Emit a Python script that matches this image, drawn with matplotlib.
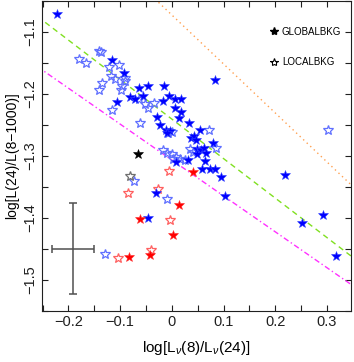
import matplotlib
matplotlib.use('Agg')
from matplotlib import pyplot as plt
from matplotlib.lines import Line2D
from matplotlib.ticker import MultipleLocator
import numpy as np

plt.rcParams['font.family'] = ['Liberation Sans', 'DejaVu Sans']
plt.rcParams['mathtext.fontset'] = 'custom'
plt.rcParams['mathtext.rm'] = 'Liberation Sans'
plt.rcParams['mathtext.it'] = 'Liberation Sans:italic'
plt.rcParams['axes.unicode_minus'] = True

# global background, blue (filled stars)
gb_x = [-0.222, -0.115, -0.092, -0.064, -0.080, -0.071, -0.046, -0.015, 0.083, -0.055,
        -0.006, -0.017, 0.006, 0.017, -0.106, 0.006, 0.017, -0.028, 0.014, -0.023,
        0.034, -0.012, -0.003, -0.009, 0.055, 0.037, 0.043, 0.046, 0.080, 0.048,
        0.056, 0.063, 0.067, 0.049, 0.032, 0.064, 0.058, 0.073, 0.084, 0.095,
        0.218, 0.103, 0.292, 0.251, 0.318, 0.009, -0.030, -0.046]
gb_y = [-1.072, -1.145, -1.166, -1.191, -1.205, -1.208, -1.188, -1.188, -1.178, -1.203,
        -1.203, -1.212, -1.209, -1.209, -1.213, -1.223, -1.230, -1.237, -1.239, -1.251,
        -1.247, -1.258, -1.260, -1.264, -1.258, -1.272, -1.268, -1.275, -1.280, -1.289,
        -1.291, -1.287, -1.295, -1.298, -1.307, -1.309, -1.321, -1.321, -1.321, -1.335,
        -1.332, -1.365, -1.396, -1.409, -1.462, -1.310, -1.361, -1.400]

# local background, blue (open stars)
lb_x = [-0.141, -0.138, -0.179, -0.167, -0.102, -0.121, -0.117, -0.110, -0.090, -0.091,
        -0.135, -0.097, -0.098, -0.140, -0.115, -0.063, -0.052, -0.046, -0.035, -0.061,
        -0.007, 0.071, 0.086, 0.036, 0.041, -0.017, -0.010, 0.000, 0.008, 0.016,
        0.026, 0.003, 0.000, 0.302, -0.073, -0.009, -0.129]
lb_y = [-1.131, -1.133, -1.144, -1.151, -1.154, -1.157, -1.171, -1.177, -1.175, -1.179,
        -1.183, -1.188, -1.194, -1.194, -1.226, -1.209, -1.217, -1.223, -1.215, -1.247,
        -1.264, -1.259, -1.287, -1.290, -1.294, -1.291, -1.295, -1.298, -1.302, -1.305,
        -1.307, -1.306, -1.262, -1.258, -1.341, -1.370, -1.459]

# black / grey sources
gk_x = [-0.065]
gk_y = [-1.298]
lk_x = [-0.081]
lk_y = [-1.333]

# red sources
gr_x = [0.041, 0.014, -0.061, 0.002, -0.042, -0.082]
gr_y = [-1.327, -1.379, -1.403, -1.428, -1.461, -1.463]
lr_x = [-0.005, -0.084, -0.026, -0.003, -0.040, -0.104]
lr_y = [-1.325, -1.360, -1.353, -1.404, -1.452, -1.465]

# reference lines: y = a + b*x
green_ab = (-1.241, -0.637)
magenta_ab = (-1.307, -0.579)
orange_ab = (-1.073, -0.790)

# typical error bar
err_x, err_y = -0.191, -1.450
err_dx, err_dy = 0.040, 0.074

fig = plt.figure(figsize=(3.54, 3.62), dpi=100)
ax = fig.add_axes([0.119, 0.142, 0.873, 0.856])

xx = np.array([-0.26, 0.36])
ax.plot(xx, green_ab[0] + green_ab[1] * xx, color='#80e020', ls=(0, (4, 3)), lw=1.0)
ax.plot(xx, magenta_ab[0] + magenta_ab[1] * xx, color='#ff30ff', ls=(0, (4, 2, 1, 2)), lw=1.0)
ax.plot(xx, orange_ab[0] + orange_ab[1] * xx, color='#ffa050', ls=(0, (1, 2.5)), lw=1.0)

ms = 7.2
ax.plot(lb_x, lb_y, ls='none', marker='*', ms=ms, mfc='none', mec='#6070ff', mew=0.9)
ax.plot(lr_x, lr_y, ls='none', marker='*', ms=ms, mfc='none', mec='#ff6060', mew=0.9)
ax.plot(lk_x, lk_y, ls='none', marker='*', ms=ms, mfc='none', mec='#707070', mew=0.9)
ax.plot(gb_x, gb_y, ls='none', marker='*', ms=ms, mfc='#0000ff', mec='#3040ff', mew=0.4)
ax.plot(gr_x, gr_y, ls='none', marker='*', ms=ms, mfc='#ff0000', mec='#ff3030', mew=0.4)
ax.plot(gk_x, gk_y, ls='none', marker='*', ms=ms, mfc='black', mec='black', mew=0.4)

ax.errorbar([err_x], [err_y], xerr=[err_dx], yerr=[err_dy], color='#505050',
            lw=1.1, capsize=3, capthick=1.1)

handles = [Line2D([], [], ls='none', marker='*', ms=6, mfc='black', mec='black'),
           Line2D([], [], ls='none', marker='*', ms=6, mfc='none', mec='black', mew=0.8)]
ax.legend(handles, ['GLOBALBKG', 'LOCALBKG'], loc='upper left',
          bbox_to_anchor=(0.71, 0.945), frameon=False, fontsize=7,
          labelspacing=2.1, handlelength=0.8, handletextpad=0.4)

ax.set_xlim(-0.251, 0.347)
ax.set_ylim(-1.55, -1.05)
ax.xaxis.set_major_locator(MultipleLocator(0.1))
ax.xaxis.set_minor_locator(MultipleLocator(0.05))
ax.yaxis.set_major_locator(MultipleLocator(0.1))
ax.yaxis.set_minor_locator(MultipleLocator(0.05))
ax.tick_params(which='both', direction='in', top=True, right=True, length=4,
               width=0.8, labelsize=10.5, colors='#202020')
ax.set_xticks([-0.2, -0.1, 0, 0.1, 0.2, 0.3])
ax.set_xticklabels(['\u22120.2', '\u22120.1', '0', '0.1', '0.2', '0.3'])
ax.set_yticks([-1.5, -1.4, -1.3, -1.2, -1.1])
ax.set_yticklabels(['\u22121.5', '\u22121.4', '\u22121.3', '\u22121.2', '\u22121.1'],
                   rotation=90, va='center')
for s in ax.spines.values():
    s.set_linewidth(0.8)
    s.set_color('#202020')

ax.set_xlabel(r'log[L$_{\nu}$(8)/L$_{\nu}$(24)]', fontsize=11, labelpad=7)
ax.set_ylabel('log[L(24)/L(8\u22121000)]', fontsize=10, labelpad=3)

fig.savefig('out.png', dpi=100)
